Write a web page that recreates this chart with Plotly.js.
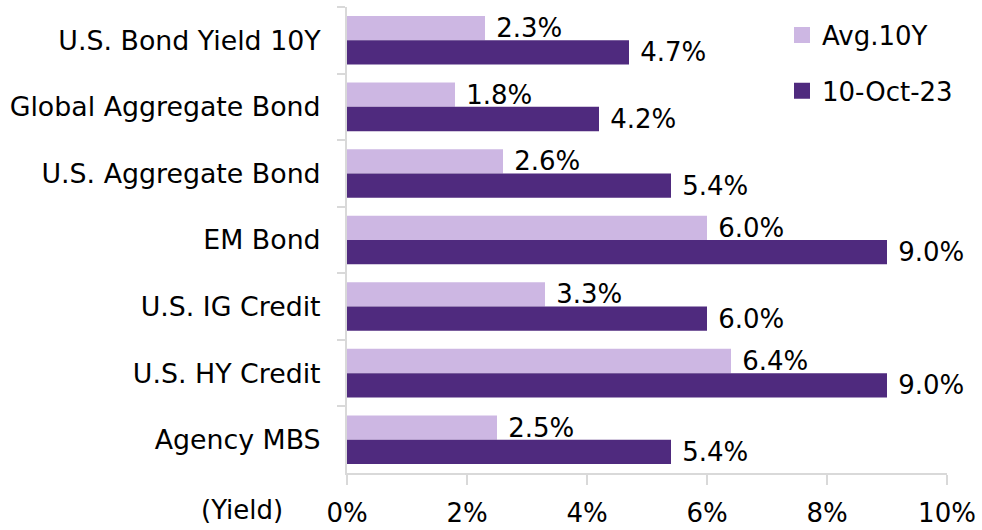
<!DOCTYPE html>
<html>
<head>
<meta charset="utf-8">
<script src="https://cdn.plot.ly/plotly-3.0.1.min.js"></script>
<style>html,body{margin:0;padding:0;background:#fff;}#chart{width:982px;height:530px;}</style>
</head>
<body>
<div id="chart"></div>
<script>
const categories = ['U.S. Bond Yield 10Y','Global Aggregate Bond','U.S. Aggregate Bond','EM Bond','U.S. IG Credit','U.S. HY Credit','Agency MBS'];
const avg10y = [2.3, 1.8, 2.6, 6.0, 3.3, 6.4, 2.5];
const oct23 = [4.7, 4.2, 5.4, 9.0, 6.0, 9.0, 5.4];
const seriesNames = ['Avg.10Y', '10-Oct-23'];
const xTickVals = [0, 2, 4, 6, 8, 10];
const xTickText = ['0%', '2%', '4%', '6%', '8%', '10%'];

const lightColor = '#CDB7E3';
const darkColor = '#4F2A7E';
const axisColor = '#D9D9D9';
const fontFam = 'DejaVu Sans, Verdana, sans-serif';

const barCommon = {
  type: 'bar', orientation: 'h', y: categories,
  textposition: 'outside', texttemplate: '\u00a0%{x:.1f}%',
  textfont: {family: fontFam, size: 26, color: '#000'},
  constraintext: 'none', cliponaxis: false, showlegend: false, hoverinfo: 'skip'
};

const traces = [
  Object.assign({}, barCommon, {name: seriesNames[0], x: avg10y, marker: {color: lightColor}}),
  Object.assign({}, barCommon, {name: seriesNames[1], x: oct23, marker: {color: darkColor}}),
  {type: 'scatter', mode: 'markers', x: [null], y: [null], name: seriesNames[0], legendgroup: 'a',
   marker: {symbol: 'square', size: 16, color: lightColor}, showlegend: true},
  {type: 'scatter', mode: 'markers', x: [null], y: [null], name: seriesNames[1], legendgroup: 'b',
   marker: {symbol: 'square', size: 16, color: darkColor}, showlegend: true}
];

const layout = {
  width: 982, height: 530,
  margin: {l: 347, r: 35, t: 7, b: 57, pad: 0},
  paper_bgcolor: '#fff', plot_bgcolor: '#fff',
  font: {family: fontFam, size: 26, color: '#000'},
  barmode: 'group', bargap: 0.27, bargroupgap: 0,
  showlegend: true,
  legend: {x: 0.725, xanchor: 'left', y: 0.99, yanchor: 'top',
           traceorder: 'grouped', tracegroupgap: 19,
           font: {family: fontFam, size: 26, color: '#000'}, bgcolor: 'rgba(0,0,0,0)'},
  xaxis: {
    range: [0, 10], tickmode: 'array', tickvals: xTickVals, ticktext: xTickText,
    showgrid: false, zeroline: false, showline: true, linecolor: axisColor, linewidth: 2,
    ticks: 'outside', ticklen: 10, tickwidth: 2, tickcolor: axisColor,
    tickfont: {family: fontFam, size: 26, color: '#000'}, ticklabelstandoff: 6, fixedrange: true
  },
  yaxis: {
    type: 'category', autorange: 'reversed',
    showgrid: false, zeroline: false, showline: true, linecolor: axisColor, linewidth: 2,
    ticks: 'outside', tickson: 'boundaries', ticklen: 8, tickwidth: 2, tickcolor: axisColor,
    tickfont: {family: fontFam, size: 26.8, color: '#000'}, ticklabelstandoff: 19, fixedrange: true
  },
  annotations: [{
    text: '(Yield)', xref: 'paper', yref: 'paper', x: -0.103, y: -0.079,
    xanchor: 'right', yanchor: 'middle', showarrow: false,
    font: {family: fontFam, size: 26, color: '#000'}
  }]
};

Plotly.newPlot('chart', traces, layout, {displayModeBar: false, staticPlot: true});
</script>
</body>
</html>
